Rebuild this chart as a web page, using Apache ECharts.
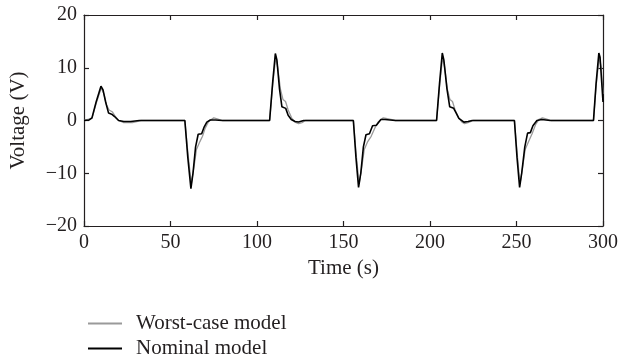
<!DOCTYPE html>
<html>
<head>
<meta charset="utf-8">
<script src="https://cdn.jsdelivr.net/npm/echarts@6/dist/echarts.min.js"></script>
<style>
  html, body { margin: 0; padding: 0; background: #fff; }
  #chart { width: 621px; height: 362px; }
</style>
</head>
<body>
<div id="chart"></div>
<script>
// values: [time (s), voltage (V)]
var seriesNames = ['Worst-case model', 'Nominal model']
var xTicks = [0, 50, 100, 150, 200, 250, 300]
var yTicks = [-20, -10, 0, 10, 20]

var worstCase = [
  [0, 0], [4.6, 0.4], [7, 3.2], [10, 6.2], [11.5, 5], [13, 3], [14.5, 2], [16.5, 1.6], [18, 0.8], [20, 0],
  [23, -0.4], [28, -0.4], [33, 0], [58.3, 0], [60, -6], [62, -12], [63.5, -9], [65, -5.5], [67, -4],
  [68.5, -3], [70, -1.5], [72, -0.2], [75, 0.5], [77, 0.3], [80, 0],
  [107.3, 0], [109, 6.5], [110.8, 12], [112, 10], [113.5, 6], [115, 4], [116.5, 3.6], [118, 2], [120, 0.5],
  [122, -0.3], [124, -0.6], [126, -0.4], [128, 0],
  [155.7, 0], [157.2, -6], [159, -12], [160.5, -9], [162, -5.5], [164, -4], [166, -3], [168, -1.5],
  [170, -0.3], [173, 0.5], [176, 0.3], [180, 0],
  [203.8, 0], [205.5, 6.5], [207.3, 12], [208.5, 10], [210, 6], [211.5, 4], [213, 3.6], [214.5, 2],
  [216.5, 0.5], [218.5, -0.3], [220, -0.6], [222, -0.4], [225, 0],
  [248.8, 0], [250.3, -6], [252, -12], [253.5, -9], [255, -5.5], [257, -4], [259, -2.5], [261, -0.8],
  [263, 0.2], [265, 0.5], [267, 0.3], [270, 0],
  [294.5, 0], [296, 6.5], [297.8, 12], [299, 10], [300, 5]
]

var nominal = [
  [0, 0], [3, 0.1], [4.6, 0.5], [7, 3.5], [9.8, 6.5], [11, 5.8], [12.5, 3.5], [14.2, 1.4], [16, 1.2],
  [17.5, 0.8], [20, 0], [23, -0.2], [27, -0.2], [32, 0],
  [58.3, 0], [60, -7], [61.8, -12.9], [63, -10], [64.5, -5], [66, -2.6], [68, -2.5], [69.5, -1.2],
  [71, -0.3], [73, 0.1], [76, 0.1], [80, 0],
  [107.3, 0], [109, 7], [110.6, 12.7], [111.5, 11.5], [113, 6], [114.4, 2.6], [116.6, 2.3], [118, 1],
  [119.8, 0.2], [122, -0.2], [124, -0.3], [127, 0],
  [155.7, 0], [157.2, -7], [158.7, -12.7], [160, -10], [161.5, -5], [163, -2.7], [165, -2.5],
  [166.8, -1.0], [169, -0.9], [171.6, 0.2], [174, 0.2], [180, 0],
  [203.8, 0], [205.5, 7], [207.1, 12.8], [208, 11.5], [209.8, 6], [211.4, 2.6], [213.7, 2.3], [215, 1.5],
  [216.7, 0.4], [219.6, -0.3], [222, -0.2], [224.4, 0],
  [248.8, 0], [250.3, -7], [251.8, -12.7], [253, -10], [254.8, -5], [256.4, -2.4], [258, -2.3],
  [259.5, -1], [261.8, 0], [264.6, 0.2], [269.5, 0],
  [294.5, 0], [296, 7], [297.6, 12.8], [298.3, 12], [300, 3.5]
]

var font = 'Liberation Serif'
var ink = '#231f20'

function minus(v) {
  return v < 0 ? '\u2212' + Math.abs(v) : String(v)
}

var frameAxis = {
  axisLine: { show: true, onZero: false, lineStyle: { color: ink, width: 1.2 } },
  axisTick: { show: true, inside: true, length: 5, lineStyle: { color: ink, width: 1.2 } },
  splitLine: { show: false }
}

// one legend block per row so the two rows stack like the original
function legendRow(name, top) {
  return {
    left: 83,
    top: top,
    itemWidth: 34,
    itemHeight: 2,
    icon: 'rect',
    textStyle: { fontFamily: font, fontSize: 21, lineHeight: 25, color: ink, padding: [0, 0, 0, 9] },
    data: [name]
  }
}

var myChart = echarts.init(document.getElementById('chart'))
myChart.setOption({
  animation: false,
  backgroundColor: '#fff',
  grid: { left: 82, right: 18, top: 15, bottom: 136 },
  legend: [legendRow(seriesNames[0], 306), legendRow(seriesNames[1], 331)],
  xAxis: [
    Object.assign({
      type: 'value',
      min: xTicks[0],
      max: xTicks[xTicks.length - 1],
      interval: 50,
      position: 'bottom',
      name: 'Time (s)',
      nameLocation: 'middle',
      nameGap: 29,
      nameTextStyle: { fontFamily: font, fontSize: 21, color: ink },
      axisLabel: { fontFamily: font, fontSize: 20, color: ink, margin: 7 }
    }, frameAxis),
    Object.assign({
      type: 'value',
      min: xTicks[0],
      max: xTicks[xTicks.length - 1],
      interval: 50,
      position: 'top',
      axisLabel: { show: false }
    }, frameAxis)
  ],
  yAxis: [
    Object.assign({
      type: 'value',
      min: yTicks[0],
      max: yTicks[yTicks.length - 1],
      interval: 10,
      position: 'left',
      name: 'Voltage (V)',
      nameLocation: 'middle',
      nameGap: 55,
      nameTextStyle: { fontFamily: font, fontSize: 21, color: ink },
      axisLabel: { fontFamily: font, fontSize: 20, color: ink, margin: 7, formatter: minus }
    }, frameAxis),
    Object.assign({
      type: 'value',
      min: yTicks[0],
      max: yTicks[yTicks.length - 1],
      interval: 10,
      position: 'right',
      axisLabel: { show: false }
    }, frameAxis)
  ],
  series: [
    {
      name: seriesNames[0],
      type: 'line',
      showSymbol: false,
      data: worstCase,
      color: '#9a9a9a',
      lineStyle: { width: 1.3, color: '#9a9a9a' }
    },
    {
      name: seriesNames[1],
      type: 'line',
      showSymbol: false,
      data: nominal,
      color: '#000',
      lineStyle: { width: 1.6, color: '#000' }
    }
  ]
})
</script>
</body>
</html>
